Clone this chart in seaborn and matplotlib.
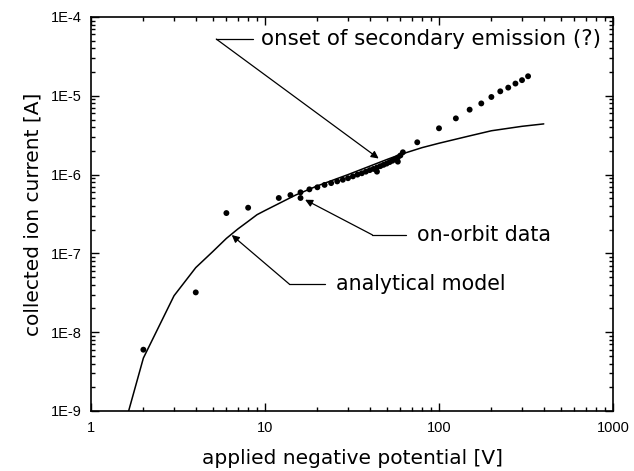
import numpy as np
import pandas as pd
import seaborn as sns
import matplotlib
matplotlib.use("Agg")
import matplotlib.pyplot as plt
from matplotlib.ticker import LogLocator, FixedLocator, NullFormatter

# on-orbit data: applied potential [V] and collected current [A]
orbit_v = [2, 4, 6, 8, 12, 14, 16, 16, 18, 20, 22, 24, 26, 28, 30, 32, 34, 36, 38,
           40, 42, 44, 44, 46, 48, 50, 52, 54, 56, 58, 58, 60, 62,
           75, 100, 125, 150, 175, 200, 225, 250, 275, 300, 325]
orbit_i = [6.0e-9, 3.2e-8, 3.25e-7, 3.8e-7, 5.05e-7, 5.5e-7, 5.96e-7, 5.05e-7, 6.5e-7,
           6.9e-7, 7.4e-7, 7.8e-7, 8.2e-7, 8.6e-7, 9.0e-7, 9.5e-7, 1.0e-6, 1.04e-6,
           1.09e-6, 1.14e-6, 1.18e-6, 1.23e-6, 1.09e-6, 1.28e-6, 1.33e-6, 1.38e-6,
           1.44e-6, 1.5e-6, 1.57e-6, 1.65e-6, 1.46e-6, 1.75e-6, 1.92e-6,
           2.57e-6, 3.87e-6, 5.17e-6, 6.67e-6, 8.0e-6, 9.66e-6, 1.14e-5, 1.27e-5,
           1.43e-5, 1.58e-5, 1.77e-5]

# analytical model curve
model_v = [1.5, 2, 3, 4, 5, 6, 7, 8, 9, 10, 15, 20, 30, 40, 50, 60, 80, 100,
           150, 200, 300, 400]
model_i = [4.8e-10, 4.7e-9, 2.9e-8, 6.6e-8, 1.05e-7, 1.55e-7, 2.05e-7, 2.55e-7,
           3.1e-7, 3.5e-7, 5.5e-7, 7.2e-7, 1.0e-6, 1.28e-6, 1.55e-6, 1.8e-6,
           2.2e-6, 2.5e-6, 3.1e-6, 3.6e-6, 4.1e-6, 4.4e-6]

x_ticks = [1, 10, 100, 1000]
x_ticklabels = ["1", "10", "100", "1000"]
y_ticks = [1e-9, 1e-8, 1e-7, 1e-6, 1e-5, 1e-4]
y_ticklabels = ["1E-9", "1E-8", "1E-7", "1E-6", "1E-5", "1E-4"]

sns.set_style("ticks")
plt.rcParams["font.family"] = ["Liberation Sans", "DejaVu Sans"]
plt.rcParams["text.color"] = "black"
plt.rcParams["axes.labelcolor"] = "black"
plt.rcParams["xtick.color"] = "black"
plt.rcParams["ytick.color"] = "black"
wide = ["DejaVu Sans"]

orbit = pd.DataFrame({"V": orbit_v, "I": orbit_i})
model = pd.DataFrame({"V": model_v, "I": model_i})

fig = plt.figure(figsize=(6.34, 4.71), dpi=100)
ax = fig.add_axes([91 / 634, 1 - 411 / 471, 522 / 634, 394 / 471])

sns.lineplot(data=model, x="V", y="I", color="black", lw=1.1, ax=ax, sort=False)
sns.scatterplot(data=orbit, x="V", y="I", color="black", s=18, edgecolor="none", ax=ax, zorder=3)

ax.set_xscale("log")
ax.set_yscale("log")
ax.set_xlim(1, 1000)
ax.set_ylim(1e-9, 1e-4)

ax.xaxis.set_major_locator(FixedLocator(x_ticks))
ax.set_xticklabels(x_ticklabels)
ax.yaxis.set_major_locator(FixedLocator(y_ticks))
ax.set_yticklabels(y_ticklabels)
ax.xaxis.set_minor_locator(LogLocator(base=10, subs=np.arange(2, 10)))
ax.yaxis.set_minor_locator(LogLocator(base=10, subs=np.arange(2, 10)))
ax.xaxis.set_minor_formatter(NullFormatter())
ax.yaxis.set_minor_formatter(NullFormatter())

ax.tick_params(which="both", direction="in", top=True, right=True, color="black",
               labelcolor="black")
ax.tick_params(which="major", length=6, width=1, labelsize=10.5, pad=7)
ax.tick_params(which="minor", length=3, width=1)
for sp in ax.spines.values():
    sp.set_linewidth(1.2)
    sp.set_color("black")

ax.set_xlabel("applied negative potential [V]", fontsize=14.5, family=wide, labelpad=10)
ax.set_ylabel("collected ion current [A]", fontsize=14.5, family=wide, labelpad=6)

arrow = dict(arrowstyle="-|>", color="black", lw=0.9, mutation_scale=11, shrinkA=0, shrinkB=0)

# onset of secondary emission
ax.plot([0.240, 0.311], [0.944, 0.944], color="black", lw=0.9, transform=ax.transAxes)
ax.annotate("", xy=(45, 1.6e-6), xycoords="data", xytext=(0.240, 0.944),
            textcoords="axes fraction", arrowprops=arrow)
ax.text(0.326, 0.944, "onset of secondary emission (?)", transform=ax.transAxes,
        fontsize=15.4, family=wide, va="center", ha="left")

# on-orbit data
ax.plot([0.539, 0.603], [0.447, 0.447], color="black", lw=0.9, transform=ax.transAxes)
ax.annotate("", xy=(17, 4.8e-7), xycoords="data", xytext=(0.539, 0.447),
            textcoords="axes fraction", arrowprops=arrow)
ax.text(0.625, 0.447, "on-orbit data", transform=ax.transAxes,
        fontsize=14.8, family=wide, va="center", ha="left")

# analytical model
ax.plot([0.380, 0.448], [0.322, 0.322], color="black", lw=0.9, transform=ax.transAxes)
ax.annotate("", xy=(6.44, 1.71e-7), xycoords="data", xytext=(0.380, 0.322),
            textcoords="axes fraction", arrowprops=arrow)
ax.text(0.470, 0.322, "analytical model", transform=ax.transAxes,
        fontsize=14.8, family=wide, va="center", ha="left")

fig.savefig("out.png", dpi=100)
